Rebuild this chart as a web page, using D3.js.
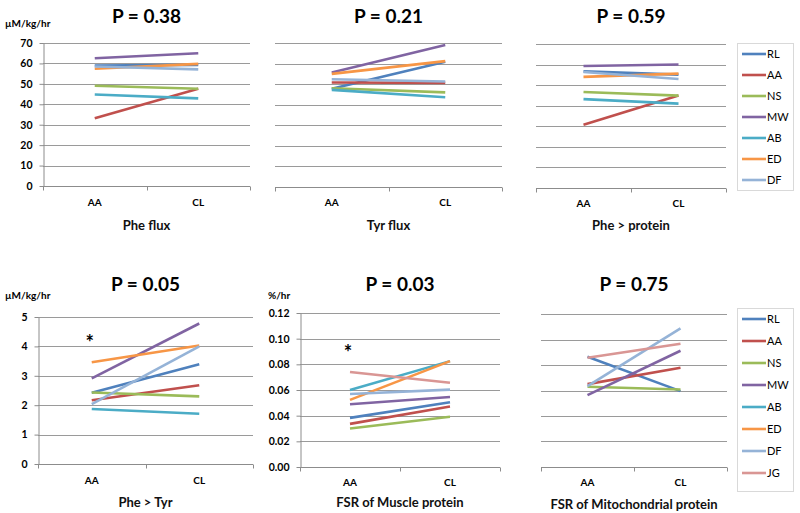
<!DOCTYPE html>
<html><head><meta charset="utf-8">
<script src="https://cdn.jsdelivr.net/npm/d3@7"></script>
<style>
html,body{margin:0;padding:0;background:#fff;}
svg{display:block;font-family:Lato,"Open Sans",sans-serif;}
</style></head>
<body><svg id="c" width="800" height="513"></svg>
<script>
// ---------- DATA ----------
const categories = ["AA", "CL"];
const seriesNames = ["RL", "AA", "NS", "MW", "AB", "ED", "DF", "JG"];
const seriesColors = ["#4F81BD", "#C0504D", "#9BBB59", "#8064A2", "#4BACC6", "#F79646", "#95B3D7", "#D99694"];

const pheFluxAA = [59.0, 33.2, 49.1, 62.5, 44.8, 57.4, 58.5];
const pheFluxCL = [59.3, 47.6, 47.6, 65.0, 42.9, 59.8, 57.1];
const tyrFluxAA = [47.8, 50.8, 48.0, 55.7, 47.2, 55.0, 52.4];
const tyrFluxCL = [60.9, 50.6, 46.0, 69.0, 43.6, 61.2, 51.3];
const pheProtAA = [56.7, 30.8, 46.7, 59.3, 43.2, 54.0, 56.4];
const pheProtCL = [55.1, 45.0, 44.9, 60.0, 41.0, 55.6, 53.0];
const pheTyrAA = [2.42, 2.17, 2.43, 2.91, 1.87, 3.46, 2.04];
const pheTyrCL = [3.39, 2.68, 2.30, 4.78, 1.71, 4.03, 4.00];
const fsrMuscleAA = [0.0383, 0.0336, 0.0300, 0.0489, 0.0600, 0.0523, 0.0569, 0.0740];
const fsrMuscleCL = [0.0505, 0.0471, 0.0391, 0.0546, 0.0825, 0.0825, 0.0603, 0.0657];
const fsrMitoAA = [0.0865, 0.0650, 0.0629, 0.0564, null, null, 0.0634, 0.0857];
const fsrMitoCL = [0.0595, 0.0778, 0.0608, 0.0912, null, null, 0.1088, 0.0967];

const fluxTicks = [0, 10, 20, 30, 40, 50, 60, 70];
const pheTyrTicks = [0, 1, 2, 3, 4, 5];
const fsrTicks = [0, 0.02, 0.04, 0.06, 0.08, 0.10, 0.12];

const panelTitles = ["P = 0.38", "P = 0.21", "P = 0.59", "P = 0.05", "P = 0.03", "P = 0.75"];
const axisTitles = ["Phe flux", "Tyr flux", "Phe > protein", "Phe > Tyr", "FSR of Muscle protein", "FSR of Mitochondrial protein"];

// ---------- LAYOUT ----------
const svg = d3.select("#c");
const panels = [
  {x0:43, x1:250, y0:43, y1:186, ticks:fluxTicks, fmt:d3.format("d"), aa:pheFluxAA, cl:pheFluxCL, yAxis:true, unit:"µM/kg/hr", unitX:5, unitY:27, titleY:23, catY:206, axY:230},
  {x0:275, x1:502, y0:43, y1:187, ticks:fluxTicks, fmt:d3.format("d"), aa:tyrFluxAA, cl:tyrFluxCL, yAxis:false, titleY:23, catY:206, axY:230},
  {x0:536, x1:726, y0:44, y1:188, ticks:fluxTicks, fmt:d3.format("d"), aa:pheProtAA, cl:pheProtCL, yAxis:false, titleY:23, catY:207, axY:230, legend:{x:737, y:43, w:56, h:147, n:7, first:54, step:21}},
  {x0:38, x1:253, y0:317, y1:464, ticks:pheTyrTicks, fmt:d3.format("d"), aa:pheTyrAA, cl:pheTyrCL, yAxis:true, unit:"µM/kg/hr", unitX:5, unitY:299, titleY:291, catY:484, axY:507, star:true},
  {x0:300, x1:500, y0:313, y1:467, ticks:fsrTicks, fmt:d3.format(".2f"), aa:fsrMuscleAA, cl:fsrMuscleCL, yAxis:true, unit:"%/hr", unitX:268, unitY:299, titleY:291, catY:486, axY:507, star:true},
  {x0:541, x1:727, y0:314, y1:467, ticks:fsrTicks, fmt:d3.format(".2f"), aa:fsrMitoAA, cl:fsrMitoCL, yAxis:false, titleY:291, catY:486, axY:509, legend:{x:737, y:308, w:56, h:183, n:8, first:319, step:22}}
];

const gridColor = "#9a9a9a", axisColor = "#8c8c8c";

panels.forEach((p, i) => {
  const g = svg.append("g");
  const x = d3.scaleBand().domain(categories).range([p.x0, p.x1]);
  const y = d3.scaleLinear().domain([0, p.ticks[p.ticks.length - 1]]).range([p.y1, p.y0]);

  // gridlines
  g.append("g").selectAll("line").data(p.ticks.filter(t => t > 0)).join("line")
    .attr("x1", p.x0).attr("x2", p.x1)
    .attr("y1", d => Math.round(y(d)) + 0.5).attr("y2", d => Math.round(y(d)) + 0.5)
    .attr("stroke", gridColor).attr("stroke-width", 1);

  // y axis
  if (p.yAxis) {
    const ya = g.append("g").attr("transform", `translate(${p.x0 + 0.5},0)`)
      .call(d3.axisLeft(y).tickValues(p.ticks).tickFormat(p.fmt).tickSizeInner(4).tickSizeOuter(0).tickPadding(7));
    ya.select(".domain").attr("stroke", axisColor);
    ya.selectAll(".tick line").attr("stroke", axisColor);
    ya.selectAll("text").attr("font-size", 10.5).attr("font-weight", "bold").attr("fill", "#000").attr("font-family", "Lato, sans-serif");
  }

  // x axis
  const xa = g.append("g").attr("transform", `translate(0,${Math.round(p.y1) + 0.5})`)
    .call(d3.axisBottom(x).tickSize(0).tickFormat(() => ""));
  xa.select(".domain").attr("stroke", axisColor).attr("d", `M${p.x0},0H${p.x1}`);
  const edges = [p.x0, (p.x0 + p.x1) / 2, p.x1];
  xa.selectAll(".edgeTick").data(edges).join("line").attr("class", "edgeTick")
    .attr("x1", d => Math.round(d) + 0.5).attr("x2", d => Math.round(d) + 0.5)
    .attr("y1", 0).attr("y2", 4).attr("stroke", axisColor);
  g.selectAll(".cat").data(categories).join("text").attr("class", "cat")
    .attr("x", d => x(d) + x.bandwidth() / 2).attr("y", p.catY)
    .attr("text-anchor", "middle").attr("font-size", 10).attr("font-weight", "bold").text(d => d);

  // series lines
  const n = p.legend ? p.legend.n : p.aa.length;
  const idx = d3.range(p.aa.length);
  const line = d3.line().x(d => x(d.c) + x.bandwidth() / 2).y(d => y(d.v));
  g.selectAll(".series").data(idx.filter(k => p.aa[k] != null && p.cl[k] != null)).join("path")
    .attr("class", "series")
    .attr("d", k => line([{c: categories[0], v: p.aa[k]}, {c: categories[1], v: p.cl[k]}]))
    .attr("stroke", k => seriesColors[k]).attr("stroke-width", 2.6).attr("fill", "none");

  // titles
  g.append("text").attr("x", (p.x0 + p.x1) / 2).attr("y", p.titleY).attr("text-anchor", "middle")
    .attr("font-size", 19).attr("font-weight", "bold").text(panelTitles[i]);
  g.append("text").attr("x", (p.x0 + p.x1) / 2).attr("y", p.axY).attr("text-anchor", "middle")
    .attr("font-size", 13).attr("font-weight", "bold").attr("fill", "#111").text(axisTitles[i]);
  if (p.unit) {
    g.append("text").attr("x", p.unitX).attr("y", p.unitY).attr("font-size", 10).attr("font-weight", "bold").text(p.unit);
  }
  if (p.star) {
    g.append("text").attr("x", x(categories[0]) + x.bandwidth() / 2 - 2).attr("y", i === 3 ? 350 : 360)
      .attr("text-anchor", "middle").attr("font-size", 20).attr("font-weight", "bold").text("*");
  }

  // legend
  if (p.legend) {
    const L = p.legend;
    g.append("rect").attr("x", L.x + 0.5).attr("y", L.y + 0.5).attr("width", L.w).attr("height", L.h)
      .attr("fill", "#fff").attr("stroke", "#d9d9d9");
    const items = g.selectAll(".leg").data(d3.range(L.n)).join("g").attr("class", "leg")
      .attr("transform", k => `translate(${L.x},${L.first + k * L.step})`);
    items.append("line").attr("x1", 5).attr("x2", 29).attr("y1", 0).attr("y2", 0)
      .attr("stroke", k => seriesColors[k]).attr("stroke-width", 2.6);
    items.append("text").attr("x", 30).attr("y", 4).attr("font-size", 11).text(k => seriesNames[k]);
  }
});
</script></body></html>
